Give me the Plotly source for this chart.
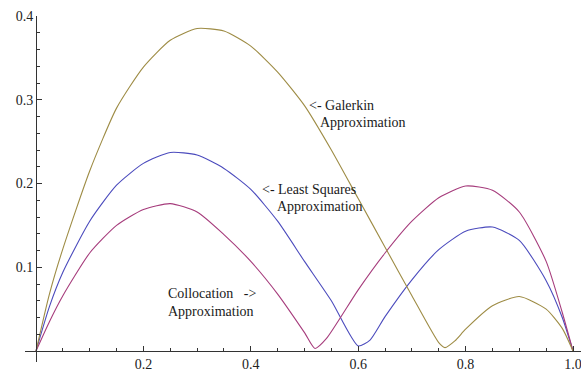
import plotly.graph_objects as go

# Galerkin approximation (olive)
gal_x = [0, 0.025, 0.05, 0.1, 0.15, 0.2, 0.25, 0.3, 0.35, 0.4, 0.45, 0.5, 0.55, 0.6, 0.65, 0.7, 0.75, 0.7616, 0.78, 0.8, 0.85, 0.9, 0.95, 0.98, 1.0]
gal_y = [0, 0.068, 0.122, 0.215, 0.290, 0.339, 0.371, 0.385, 0.382, 0.364, 0.333, 0.293, 0.240, 0.182, 0.124, 0.066, 0.010, 0.004, 0.012, 0.026, 0.054, 0.065, 0.050, 0.027, 0.0]

# Least squares approximation (blue)
ls_x = [0, 0.025, 0.05, 0.1, 0.15, 0.2, 0.25, 0.3, 0.35, 0.4, 0.45, 0.5, 0.55, 0.6, 0.622, 0.65, 0.7, 0.75, 0.8, 0.85, 0.9, 0.95, 0.98, 1.0]
ls_y = [0, 0.053, 0.094, 0.155, 0.198, 0.224, 0.237, 0.234, 0.218, 0.193, 0.155, 0.107, 0.060, 0.006, 0.013, 0.041, 0.085, 0.121, 0.143, 0.148, 0.132, 0.084, 0.040, 0.0]

# Collocation approximation (purple)
col_x = [0, 0.025, 0.05, 0.1, 0.15, 0.2, 0.25, 0.3, 0.35, 0.4, 0.45, 0.5, 0.5196, 0.541, 0.6, 0.65, 0.7, 0.75, 0.8, 0.85, 0.9, 0.95, 0.98, 1.0]
col_y = [0, 0.035, 0.066, 0.117, 0.150, 0.169, 0.176, 0.166, 0.139, 0.107, 0.068, 0.022, 0.003, 0.015, 0.073, 0.117, 0.155, 0.183, 0.197, 0.192, 0.166, 0.107, 0.046, 0.0]

x_tickvals = [0.2, 0.4, 0.6, 0.8, 1.0]
x_ticktext = ["0.2", "0.4", "0.6", "0.8", "1.0"]
x_minor = [0.05, 0.1, 0.15, 0.25, 0.3, 0.35, 0.45, 0.5, 0.55, 0.65, 0.7, 0.75, 0.85, 0.9, 0.95]
y_tickvals = [0.1, 0.2, 0.3, 0.4]
y_ticktext = ["0.1", "0.2", "0.3", "0.4"]
y_minor = [0.02, 0.04, 0.06, 0.08, 0.12, 0.14, 0.16, 0.18, 0.22, 0.24, 0.26, 0.28, 0.32, 0.34, 0.36, 0.38]

FONT = "Times New Roman"
AX = "#333333"

fig = go.Figure()
for xs, ys, col in [(ls_x, ls_y, "#4b4bbd"), (col_x, col_y, "#a63c7c"), (gal_x, gal_y, "#9e8c45")]:
    fig.add_trace(go.Scatter(x=xs, y=ys, mode="lines",
                             line=dict(color=col, width=1.1, shape="spline", smoothing=0.6),
                             hoverinfo="skip"))

ann = [
    ("<- Galerkin", 0.504, 0.2937),
    ("Approximation", 0.5246, 0.2726),
    ("<- Least Squares", 0.4171, 0.1934),
    ("Approximation", 0.445, 0.1731),
    ("Collocation\u00a0\u00a0\u00a0->", 0.2415, 0.0689),
    ("Approximation", 0.2415, 0.0469),
]
for t, ax_, ay_ in ann:
    fig.add_annotation(x=ax_, y=ay_, text=t, showarrow=False, xanchor="left", yanchor="middle",
                       font=dict(family=FONT, size=14, color="#1a1a1a"))

W, H = 581, 372
ml, mr, mt, mb = 25, 0, 16, 10
fig.update_layout(
    width=W, height=H,
    margin=dict(l=ml, r=mr, t=mt, b=mb),
    paper_bgcolor="white", plot_bgcolor="white",
    showlegend=False,
    font=dict(family=FONT, size=14, color="#222222"),
    xaxis=dict(range=[-0.02048, 1.0149], showgrid=False, zeroline=False,
               showline=True, linecolor=AX, linewidth=1,
               anchor="free", position=11 / 346,
               tickmode="array", tickvals=x_tickvals, ticktext=x_ticktext,
               ticklabeloverflow="allow",
               ticks="inside", ticklen=5, tickwidth=1, tickcolor=AX,
               tickfont=dict(family=FONT, size=14, color="#222222"),
               minor=dict(tickmode="array", tickvals=x_minor, ticks="inside", ticklen=3,
                          tickwidth=1, tickcolor=AX, showgrid=False)),
    yaxis=dict(range=[-0.01313, 0.4], showgrid=False, zeroline=False,
               showline=True, linecolor=AX, linewidth=1,
               anchor="free", position=11 / 556,
               tickmode="array", tickvals=y_tickvals, ticktext=y_ticktext,
               ticklabeloverflow="allow",
               ticks="inside", ticklen=5, tickwidth=1, tickcolor=AX,
               tickfont=dict(family=FONT, size=14, color="#222222"),
               minor=dict(tickmode="array", tickvals=y_minor, ticks="inside", ticklen=3,
                          tickwidth=1, tickcolor=AX, showgrid=False)),
)

fig.write_html("out.html")
